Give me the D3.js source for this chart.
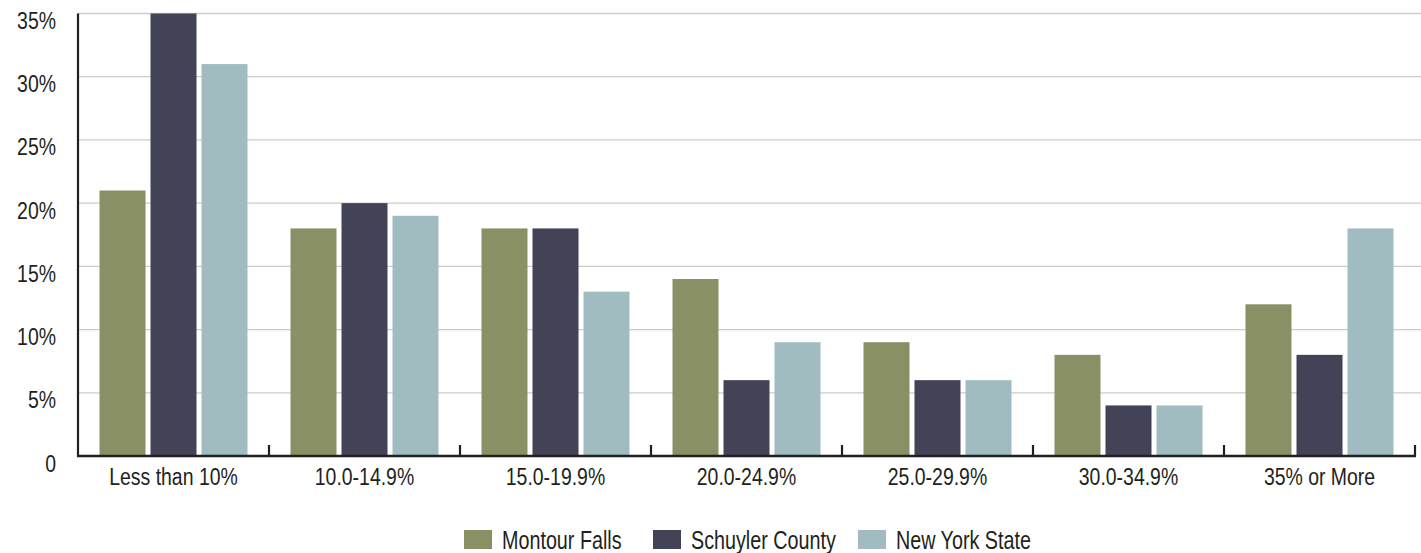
<!DOCTYPE html>
<html><head><meta charset="utf-8">
<script src="https://cdn.jsdelivr.net/npm/d3@7"></script>
<style>
html,body{margin:0;padding:0;background:#fff;}
svg text{font-family:"Liberation Sans",Arial,sans-serif;fill:#231f20;}
</style></head>
<body>
<svg id="chart" width="1421" height="553"></svg>
<script>
const categories = ["Less than 10%","10.0-14.9%","15.0-19.9%","20.0-24.9%","25.0-29.9%","30.0-34.9%","35% or More"];
const seriesNames = ["Montour Falls","Schuyler County","New York State"];
const montourFalls = [21,18,18,14,9,8,12];
const schuylerCounty = [35,20,18,6,6,4,8];
const newYorkState = [31,19,13,9,6,4,18];
const yTicks = [0,5,10,15,20,25,30,35];
const yTickLabels = ["0","5%","10%","15%","20%","25%","30%","35%"];
const colors = ["#8a9066","#424356","#a1bcc1"];

(function(){
const seriesValues = [montourFalls, schuylerCounty, newYorkState];
const svg = d3.select("#chart");
const mLeft = 78, mRight = 1415, mTop = 13.5, mBottom = 456;
const sx = 0.81;

const x = d3.scaleBand().domain(categories).range([mLeft, mRight]).padding(0);
const groupW = 148;
const xs = d3.scaleBand().domain(seriesNames).range([0, groupW]).paddingInner(5/51).paddingOuter(0);
const y = d3.scaleLinear().domain([0,35]).range([mBottom, mTop]);

svg.append("g").selectAll("line").data(yTicks.filter(d=>d>0)).join("line")
  .attr("x1", mLeft).attr("x2", 1421)
  .attr("y1", d=>y(d)).attr("y2", d=>y(d))
  .attr("stroke", "#cccccc").attr("stroke-width", 1.3);

svg.append("g").selectAll("text").data(yTicks).join("text")
  .attr("transform", d=>`translate(56,${y(d)+15.5}) scale(${sx},1)`)
  .attr("text-anchor","end").attr("font-size", 24)
  .text((d,i)=>yTickLabels[i]);

const groups = svg.append("g").selectAll("g").data(categories).join("g")
  .attr("transform", c => `translate(${x(c) + (x.bandwidth()-groupW)/2},0)`);
groups.selectAll("rect").data((c,ci)=>seriesNames.map((s,si)=>({s, si, v: seriesValues[si][ci]}))).join("rect")
  .attr("x", d=>xs(d.s)).attr("width", xs.bandwidth())
  .attr("y", d=>y(d.v)).attr("height", d=>mBottom - y(d.v))
  .attr("fill", d=>colors[d.si]);

svg.append("line").attr("x1", mLeft).attr("x2", mLeft).attr("y1", mTop).attr("y2", mBottom+1)
  .attr("stroke", "#231f20").attr("stroke-width", 2.2);
svg.append("line").attr("x1", mLeft-1).attr("x2", mRight+1).attr("y1", mBottom).attr("y2", mBottom)
  .attr("stroke", "#231f20").attr("stroke-width", 2.5);
svg.append("g").selectAll("line").data(categories).join("line")
  .attr("x1", c=>x(c)+x.bandwidth()).attr("x2", c=>x(c)+x.bandwidth())
  .attr("y1", mBottom).attr("y2", mBottom-11)
  .attr("stroke", "#231f20").attr("stroke-width", 2.2);

svg.append("g").selectAll("text").data(categories).join("text")
  .attr("transform", c=>`translate(${x(c)+x.bandwidth()/2},485) scale(${sx},1)`)
  .attr("text-anchor","middle").attr("font-size", 24)
  .text(c=>c);

const legendX = [464, 653, 858];
const lg = svg.append("g").selectAll("g").data(seriesNames).join("g")
  .attr("transform", (d,i)=>`translate(${legendX[i]},0)`);
lg.append("rect").attr("x",0).attr("y",530).attr("width",28).attr("height",19)
  .attr("fill",(d,i)=>colors[i]);
lg.append("text").attr("transform","translate(38,548.5) scale(0.79,1)")
  .attr("font-size",25).text(d=>d);
})();
</script>
</body></html>
